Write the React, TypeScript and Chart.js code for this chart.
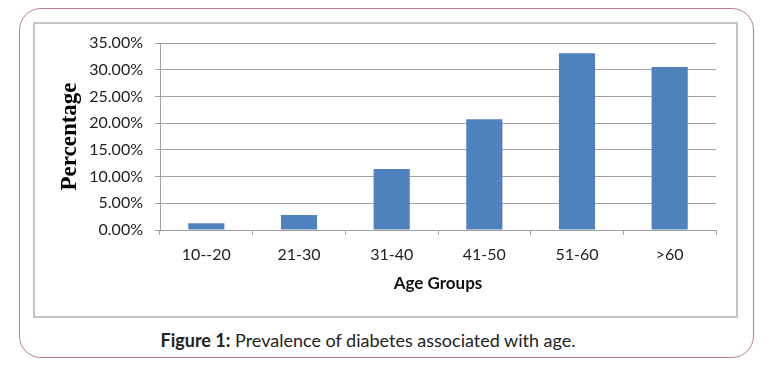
import React, { useEffect, useRef } from "react";
import { Chart, registerables } from "chart.js";

Chart.register(...registerables);

const categories = ["10--20", "21-30", "31-40", "41-50", "51-60", ">60"];
const prevalence = [1.25, 2.8, 11.4, 20.75, 33.1, 30.5];
const yMax = 35;
const yStep = 5;
const xTitle = "Age Groups";
const yTitle = "Percentage";
const captionBold = "Figure 1:";
const captionText = " Prevalence of diabetes associated with age.";

const FONT = "Lato, 'Open Sans', sans-serif";

export default function App() {
  const ref = useRef<HTMLCanvasElement | null>(null);

  useEffect(() => {
    if (!ref.current) return;
    const chart = new Chart(ref.current, {
      type: "bar",
      data: {
        labels: categories,
        datasets: [
          {
            data: prevalence,
            backgroundColor: "#4f81bd",
            borderWidth: 0,
            categoryPercentage: 1,
            barPercentage: 0.39,
          },
        ],
      },
      options: {
        animation: false,
        responsive: false,
        devicePixelRatio: 1,
        layout: { padding: { left: 40, top: 43, right: 54, bottom: 72 } },
        plugins: { legend: { display: false }, tooltip: { enabled: false } },
        scales: {
          x: {
            grid: {
              drawOnChartArea: false,
              drawTicks: true,
              tickLength: 5,
              color: "#a0a0a0",
              lineWidth: 1,
            },
            border: { display: true, color: "#a0a0a0", width: 1 },
            ticks: {
              padding: 10,
              color: "#222",
              font: { family: FONT, size: 16 },
            },
            title: {
              display: true,
              text: xTitle,
              color: "#111",
              font: { family: FONT, size: 17, weight: "bold" },
              padding: { top: 0, bottom: 6 },
            },
            afterFit: (s: any) => {
              s.height = 70;
            },
          },
          y: {
            min: 0,
            max: yMax,
            grid: {
              color: "#a0a0a0",
              lineWidth: 1,
              drawTicks: true,
              tickLength: 5,
            },
            border: { display: true, color: "#a0a0a0", width: 1 },
            ticks: {
              stepSize: yStep,
              padding: 12,
              color: "#222",
              font: { family: FONT, size: 16 },
              callback: (v: any) => Number(v).toFixed(2) + "%",
            },
            title: {
              display: true,
              text: yTitle,
              color: "#000",
              font: { family: "'Liberation Serif', 'DejaVu Serif', serif", size: 23, weight: "bold" },
              padding: { top: 16, bottom: 0 },
            },
            afterFit: (s: any) => {
              s.width = 120;
            },
          },
        },
      },
    });
    return () => chart.destroy();
  }, []);

  return (
    <div
      style={{
        position: "fixed",
        left: 0,
        top: 0,
        width: 770,
        height: 372,
        background: "#fff",
        overflow: "hidden",
      }}
    >
      <div
        style={{
          position: "absolute",
          left: 19,
          top: 8,
          width: 735,
          height: 350,
          border: "1.5px solid #b87ca2",
          borderRadius: 22,
          boxSizing: "border-box",
        }}
      />
      <div
        style={{
          position: "absolute",
          left: 33,
          top: 22,
          width: 705,
          height: 296,
          border: "2px solid #c4c4c4",
          boxSizing: "border-box",
        }}
      />
      <div
        style={{
          position: "absolute",
          left: 0,
          width: 736,
          top: 328,
          textAlign: "center",
          fontFamily: FONT,
          fontSize: 18,
          lineHeight: "24px",
          color: "#222",
        }}
      >
        <b>{captionBold}</b>
        {captionText}
      </div>
      <canvas
        ref={ref}
        width={770}
        height={372}
        style={{ position: "absolute", left: 0, top: 0, width: 770, height: 372 }}
      />
    </div>
  );
}
